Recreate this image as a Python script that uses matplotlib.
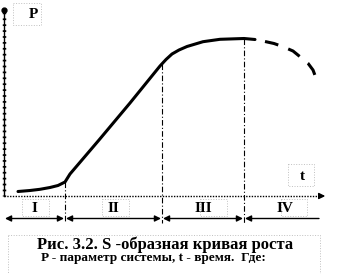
import matplotlib.pyplot as plt
from matplotlib.patches import Rectangle

# S-curve (pixel coords, y grows downward)
solid_x = [18, 30, 40, 50, 58, 65, 70, 99, 130, 160, 166, 172, 179, 187, 203, 220, 244, 255]
solid_y = [191.5, 190.5, 189.3, 187.5, 185.5, 182, 174, 140, 103, 66, 59.5, 54, 50, 46.5, 41.7, 39.3, 38.5, 39.5]
dashed_x = [265, 274, 283, 293, 300, 308, 313, 316]
dashed_y = [41.5, 43.5, 46.7, 51, 56.7, 63.3, 70, 78]

# phase boundaries along t and where each divider meets the curve
phase_bounds = [4, 65, 162, 244, 320]
divider_top = [182, 64, 38.5]
phase_labels = ['I', 'II', 'III', 'IV']

caption1 = 'Рис. 3.2. S -образная кривая роста'
caption2 = 'P - параметр системы, t - время.  Где:'

fig = plt.figure(figsize=(3.37, 2.74), dpi=100)
ax = fig.add_axes([0, 0, 1, 1])
ax.set_xlim(0, 337)
ax.set_ylim(274, 0)
ax.axis('off')

serif = ['Liberation Serif', 'DejaVu Serif']

# axes: y axis (ticked look) and x axis with arrow
ax.plot([4, 4], [10, 196], color='black', lw=1.0)
ax.plot([4, 4], [12, 196], color='black', lw=2.5, linestyle=(0, (0.5, 1.2)))
ax.plot(4, 10, marker='o', color='black', ms=3.5)
ax.plot([4, 322], [196, 196], color='black', lw=1.0, linestyle=(0, (1, 1)))
ax.annotate('', xy=(328, 196), xytext=(318, 196),
            arrowprops=dict(arrowstyle='-|>', color='black', lw=1, mutation_scale=9))

# curve
ax.plot(solid_x, solid_y, color='black', lw=2.2, solid_capstyle='round')
ax.plot(dashed_x, dashed_y, color='black', lw=2.2, dashes=(4.5, 3.5))

# dash-dot dividers
for x, top in zip(phase_bounds[1:4], divider_top):
    ax.plot([x, x], [top, 223], color='black', lw=0.8, linestyle=(0, (5, 2, 1, 2)))

# phase arrows
for i in range(4):
    a, b = phase_bounds[i], phase_bounds[i + 1]
    style = '<|-|>' if i < 3 else '<|-'
    ax.annotate('', xy=(b - 1, 218.5), xytext=(a + 1, 218.5),
                arrowprops=dict(arrowstyle=style, color='black', lw=1,
                                mutation_scale=9, shrinkA=0, shrinkB=0))
    ax.text((a + b) / 2 + (3 if i == 3 else 0), 208.5, phase_labels[i], family=serif,
            weight='bold', fontsize=11, ha='center', va='center')

# axis labels
ax.text(33, 15, 'P', family=serif, weight='bold', fontsize=11, ha='center', va='center')
ax.text(302, 176, 't', family=serif, weight='bold', fontsize=11, ha='center', va='center')

# dotted text-box frames
box_style = dict(fill=False, edgecolor='#c0c0c0', lw=0.7, linestyle=':')
for x0, y0, w, h in [(13, 3, 28, 22), (288, 164, 26, 22), (200, 199, 27, 17),
                     (281, 199, 26, 17), (102, 199, 27, 17), (22, 199, 27, 17),
                     (8, 235, 312, 45)]:
    ax.add_patch(Rectangle((x0, y0), w, h, **box_style))

# caption
ax.text(165, 245, caption1, family=serif, weight='bold', fontsize=12,
        ha='center', va='center')
ax.text(153, 258.5, caption2, family=serif, weight='bold', fontsize=9.5,
        ha='center', va='center')

plt.savefig('out.png', dpi=100)
plt.close()
